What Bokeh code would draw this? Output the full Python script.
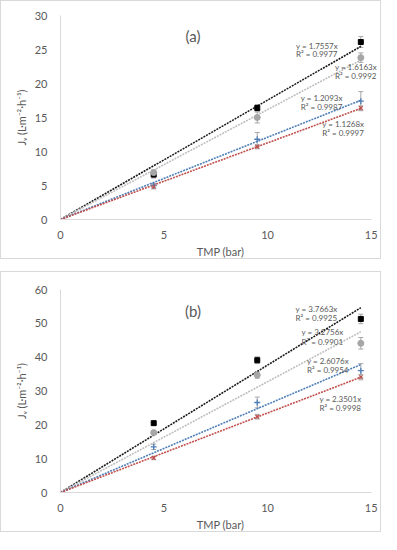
from bokeh.plotting import figure
from bokeh.models import ColumnDataSource, Whisker, FixedTicker, Range1d, Label, TeeHead
from bokeh.layouts import column
from bokeh.embed import file_html
from bokeh.resources import INLINE

# ---------------- data ----------------
tmp = [4.5, 9.5, 14.5]

# panel (a)
a_black = [6.6, 16.4, 26.1]
a_black_err = [0.5, 0.5, 0.8]
a_grey = [6.9, 15.0, 23.8]
a_grey_err = [0.4, 0.8, 0.7]
a_blue = [5.0, 11.8, 17.4]
a_blue_err = [0.3, 1.0, 1.4]
a_red = [4.8, 10.7, 16.4]
a_red_err = [0.3, 0.3, 0.3]
a_slopes = [1.7557, 1.6163, 1.2093, 1.1268]
a_r2 = ["0.9977", "0.9992", "0.9987", "0.9997"]

# panel (b)
b_black = [20.5, 39.1, 51.3]
b_black_err = [0.4, 1.0, 1.4]
b_grey = [17.7, 34.7, 44.1]
b_grey_err = [0.5, 0.9, 1.7]
b_blue = [13.5, 26.6, 36.0]
b_blue_err = [0.8, 1.6, 2.1]
b_red = [10.2, 22.4, 34.1]
b_red_err = [0.5, 0.7, 0.8]
b_slopes = [3.7663, 3.2756, 2.6076, 2.3501]
b_r2 = ["0.9925", "0.9901", "0.9954", "0.9998"]

x_ticks = [0, 5, 10, 15]
a_y_ticks = [0, 5, 10, 15, 20, 25, 30]
b_y_ticks = [0, 10, 20, 30, 40, 50, 60]

# ---------------- style ----------------
FONT = "Lato"
TXT = "#595959"
AXIS = "#d9d9d9"
ERR = "#a6a6a6"
COLORS = ["#000000", "#a6a6a6", "#4f7fb8", "#c0504d"]
LINE_COLORS = ["#1a1a1a", "#bfbfbf", "#4f7fb8", "#c0504d"]


def make_panel(series, errs, slopes, r2, yticks, ymax, tag, tag_pos, label_pos,
               height, border_left, border_top, border_bottom):
    p = figure(width=381, height=height, output_backend="svg", toolbar_location=None,
               x_range=Range1d(0, 15.45), y_range=Range1d(0, ymax),
               min_border_left=border_left, min_border_right=2,
               min_border_top=border_top, min_border_bottom=border_bottom)
    p.styles = {"border": "1px solid #d9d9d9", "box-sizing": "border-box"}
    p.outline_line_color = None
    p.xgrid.visible = False
    p.ygrid.visible = False
    p.background_fill_color = "white"
    p.border_fill_color = "white"

    for ax in (p.xaxis[0], p.yaxis[0]):
        ax.axis_line_color = AXIS
        ax.major_tick_line_color = None
        ax.minor_tick_line_color = None
        ax.major_label_text_color = TXT
        ax.major_label_text_font = FONT
        ax.major_label_text_font_size = "11px"
        ax.axis_label_text_color = TXT
        ax.axis_label_text_font = FONT
        ax.axis_label_text_font_style = "normal"
        ax.axis_label_text_font_size = "11px"
    p.xaxis.ticker = FixedTicker(ticks=x_ticks)
    p.xaxis.bounds = (0, 15)
    p.yaxis.ticker = FixedTicker(ticks=yticks)
    p.xaxis.axis_label = "TMP (bar)"
    p.xaxis.axis_label_standoff = 3
    p.yaxis.axis_label = "J\u1d65 (L\u00b7m\u207b\u00b2\u00b7h\u207b\u00b9)"
    p.yaxis.axis_label_standoff = 4
    p.yaxis.major_label_standoff = 7
    p.xaxis.major_label_standoff = 5

    # trend lines y = slope * x
    xs = [0, tmp[-1]]
    for s, c in zip(slopes, LINE_COLORS):
        p.line(xs, [0, s * tmp[-1]], line_color=c, line_width=1.6, line_dash="2 1")

    # error bars
    for ys, es in zip(series, errs):
        src = ColumnDataSource(dict(x=tmp, lo=[y - e for y, e in zip(ys, es)],
                                    hi=[y + e for y, e in zip(ys, es)]))
        w = Whisker(source=src, base="x", lower="lo", upper="hi",
                    line_color=ERR, line_width=1,
                    upper_head=TeeHead(size=5, line_color=ERR, line_width=1),
                    lower_head=TeeHead(size=5, line_color=ERR, line_width=1))
        p.add_layout(w)

    # markers
    p.scatter(tmp, series[0], marker="square", size=5, color=COLORS[0])
    p.scatter(tmp, series[1], marker="circle", size=6, color=COLORS[1])
    p.scatter(tmp, series[2], marker="cross", size=6, line_color=COLORS[2], line_width=1.3)
    p.scatter(tmp, series[3], marker="x", size=5, line_color=COLORS[3], line_width=1.3)

    # equations
    for s, r, (lx, ly1, ly2) in zip(slopes, r2, label_pos):
        p.add_layout(Label(x=lx, y=ly1, text=f"y = {s:.4f}x", text_font=FONT,
                           text_font_size="8px", text_color=TXT, text_baseline="middle"))
        p.add_layout(Label(x=lx, y=ly2, text=f"R\u00b2 = {r}", text_font=FONT,
                           text_font_size="8px", text_color=TXT, text_baseline="middle"))

    p.add_layout(Label(x=tag_pos[0], y=tag_pos[1], text=tag, text_font=FONT,
                       text_font_size="15px", text_color=TXT,
                       text_align="center", text_baseline="middle"))
    return p


a_label_pos = [(11.37, 25.5, 24.4), (13.25, 22.4, 21.1), (11.6, 17.9, 16.6), (12.64, 14.1, 12.7)]
b_label_pos = [(11.35, 54.3, 51.5), (11.64, 47.5, 44.6), (11.9, 38.8, 36.1), (12.5, 27.7, 24.9)]

pa = make_panel([a_black, a_grey, a_blue, a_red],
                [a_black_err, a_grey_err, a_blue_err, a_red_err],
                a_slopes, a_r2, a_y_ticks, 30, "(a)", (6.4, 27.0), a_label_pos,
                height=259, border_left=49, border_top=14, border_bottom=32)
pb = make_panel([b_black, b_grey, b_blue, b_red],
                [b_black_err, b_grey_err, b_blue_err, b_red_err],
                b_slopes, b_r2, b_y_ticks, 60, "(b)", (6.4, 53.5), b_label_pos,
                height=261, border_left=59, border_top=17, border_bottom=32)

layout = column(pa, pb, spacing=12)
open("out.html", "w").write(file_html(layout, INLINE))
